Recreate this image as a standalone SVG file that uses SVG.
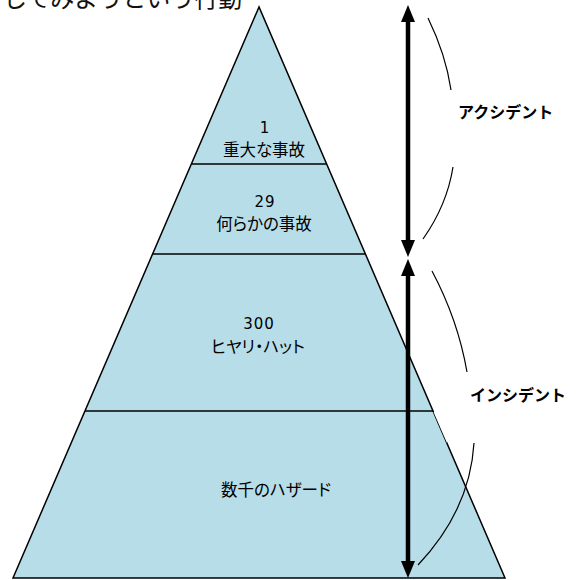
<svg xmlns="http://www.w3.org/2000/svg" width="576" height="580" viewBox="0 0 576 580">
<style>
.t{font-family:"Noto Sans CJK JP","Noto Sans",sans-serif;fill:#000;text-anchor:middle;font-size:16.5px;font-feature-settings:"palt"}
.n{font-family:"DejaVu Sans",sans-serif;fill:#000;text-anchor:middle;font-size:15px;letter-spacing:1px}
.side{font-family:"Noto Sans CJK JP",sans-serif;font-size:16px;font-weight:bold;fill:#000}
.sep{stroke:#000;stroke-width:1.5}
.arc{fill:none;stroke:#000;stroke-width:1.2}
.shaft{stroke:#000;stroke-width:4.5}
</style>
<rect width="576" height="580" fill="#fff"/>
<text x="3" y="7" font-family="Noto Sans CJK JP,sans-serif" font-size="24" fill="#111">してみようという行動</text>
<g id="pyramid">
<polygon points="259,7 13,578 505,578" fill="#b7dde8" stroke="#000" stroke-width="1.5"/>
<line class="sep" x1="191.4" y1="164" x2="326.6" y2="164"/>
<line class="sep" x1="152.6" y1="254" x2="365.4" y2="254"/>
<line class="sep" x1="85" y1="411" x2="433" y2="411"/>
</g>
<g id="level1"><text class="n" x="265" y="133">1</text><text class="t" x="264" y="156">重大な事故</text></g>
<g id="level2"><text class="n" x="265" y="207">29</text><text class="t" x="264" y="230">何らかの事故</text></g>
<g id="level3"><text class="n" x="259" y="329">300</text><text class="t" x="258" y="353">ヒヤリ・ハット</text></g>
<g id="level4"><text class="t" x="276" y="496">数千のハザード</text></g>
<g id="connectors">
<line class="shaft" x1="408" y1="18" x2="408" y2="244"/>
<polygon points="408,5 401,22 415,22"/>
<polygon points="408,257 401,240 415,240"/>
<line class="shaft" x1="408" y1="272" x2="408" y2="565"/>
<polygon points="408,259 401,276 415,276"/>
<polygon points="408,578 401,561 415,561"/>
<path class="arc" d="M428,18 Q446,55 451,90"/>
<path class="arc" d="M453,167 Q447,205 423,239"/>
<path class="arc" d="M432,271 Q458,320 467,372"/>
<polygon points="433.5,412 447,443 447,412" fill="#fff"/>
<path class="arc" d="M474,443 Q470,510 418,565"/>
</g>
<g id="accident"><text class="side" x="458" y="118">アクシデント</text></g>
<g id="incident"><text class="side" x="470" y="401">インシデント</text></g>
</svg>
